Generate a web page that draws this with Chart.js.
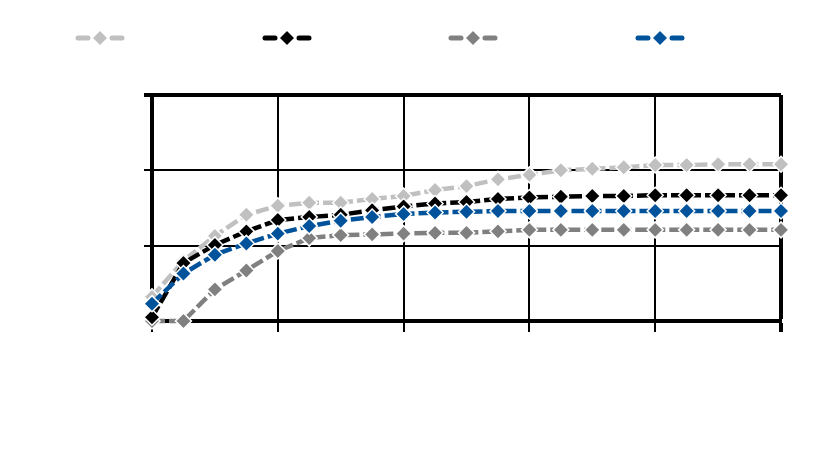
<!DOCTYPE html>
<html>
<head>
<meta charset="utf-8">
<script src="https://cdn.jsdelivr.net/npm/chart.js@4"></script>
<style>
  html, body { margin: 0; padding: 0; background: #fff; }
  canvas { display: block; }
</style>
</head>
<body>
<canvas id="grafico" width="830" height="455"></canvas>
<script>
// eixo x: 21 passos, grade a cada 4
const passos = [0, 1, 2, 3, 4, 5, 6, 7, 8, 9, 10, 11, 12, 13, 14, 15, 16, 17, 18, 19, 20];
const serieClara = [0.32, 0.80, 1.13, 1.41, 1.53, 1.57, 1.57, 1.62, 1.66, 1.74, 1.79, 1.88, 1.94, 2.00, 2.02, 2.04, 2.07, 2.07, 2.08, 2.08, 2.08];
const seriePreta = [0.05, 0.77, 1.01, 1.19, 1.34, 1.38, 1.41, 1.47, 1.52, 1.56, 1.58, 1.62, 1.64, 1.65, 1.66, 1.66, 1.67, 1.67, 1.67, 1.67, 1.67];
const serieCinza = [0.00, 0.00, 0.42, 0.67, 0.93, 1.10, 1.14, 1.15, 1.16, 1.17, 1.17, 1.19, 1.21, 1.21, 1.21, 1.21, 1.21, 1.21, 1.21, 1.21, 1.21];
const serieAzul = [0.23, 0.63, 0.88, 1.03, 1.16, 1.26, 1.33, 1.38, 1.42, 1.44, 1.45, 1.46, 1.46, 1.46, 1.46, 1.46, 1.46, 1.46, 1.46, 1.46, 1.46];
const yTicks = [0, 1, 2, 3];
const xTicks = [0, 4, 8, 12, 16, 20];

const cores = ['#c0c0c0', '#000000', '#808080', '#00539b'];

function serie(label, valores, cor, ordem) {
    return {
        label,
        data: passos.map((x, i) => ({ x, y: valores[i] })),
        borderColor: cor,
        backgroundColor: cor,
        borderWidth: 4.5,
        borderDash: [13, 4],
        pointStyle: 'rectRot',
        pointRadius: 8,
        pointBackgroundColor: cor,
        pointBorderColor: '#fff',
        pointBorderWidth: 1.5,
        tension: 0,
        clip: false,
        order: ordem,
    };
}

// legenda sem texto: traço + losango
const legendaLinhas = {
    id: 'legendaLinhas',
    afterDraw(chart) {
        const ctx = chart.ctx;
        const centros = [100, 287, 473, 660];
        chart.data.datasets.forEach((ds, i) => {
            const cx = centros[i], cy = 38, r = 8;
            ctx.save();
            ctx.strokeStyle = ds.borderColor;
            ctx.lineWidth = 5;
            ctx.lineCap = 'round';
            ctx.beginPath();
            ctx.moveTo(cx - 22, cy); ctx.lineTo(cx - 12, cy);
            ctx.moveTo(cx + 12, cy); ctx.lineTo(cx + 22, cy);
            ctx.stroke();
            ctx.beginPath();
            ctx.moveTo(cx, cy - r); ctx.lineTo(cx + r, cy);
            ctx.lineTo(cx, cy + r); ctx.lineTo(cx - r, cy);
            ctx.closePath();
            ctx.fillStyle = ds.borderColor;
            ctx.fill();
            ctx.strokeStyle = '#fff';
            ctx.lineWidth = 1.5;
            ctx.stroke();
            ctx.restore();
        });
    }
};

const bordaGrossa = (limite) => (c) => (c.tick && c.tick.value === limite ? 4 : 2);

new Chart(document.getElementById('grafico'), {
    type: 'line',
    data: {
        datasets: [
            serie('Série 1', serieClara, cores[0], 4),
            serie('Série 2', seriePreta, cores[1], 2),
            serie('Série 3', serieCinza, cores[2], 3),
            serie('Série 4', serieAzul, cores[3], 1),
        ]
    },
    options: {
        responsive: false,
        animation: false,
        layout: { padding: { top: 95, right: 49, bottom: 0, left: 0 } },
        plugins: { legend: { display: false }, tooltip: { enabled: false } },
        scales: {
            x: {
                type: 'linear',
                min: 0, max: 20,
                afterBuildTicks: s => { s.ticks = xTicks.map(v => ({ value: v })); },
                afterFit: s => { s.height = 134; },
                ticks: { display: false },
                grid: { color: '#000', lineWidth: bordaGrossa(20), tickLength: 11 },
                border: { color: '#000', width: 4 },
            },
            y: {
                min: 0, max: 3,
                afterBuildTicks: s => { s.ticks = yTicks.map(v => ({ value: v })); },
                afterFit: s => { s.width = 152; },
                ticks: { display: false },
                grid: { color: '#000', lineWidth: bordaGrossa(3), tickLength: 8 },
                border: { color: '#000', width: 4 },
            }
        }
    },
    plugins: [legendaLinhas]
});
</script>
</body>
</html>
